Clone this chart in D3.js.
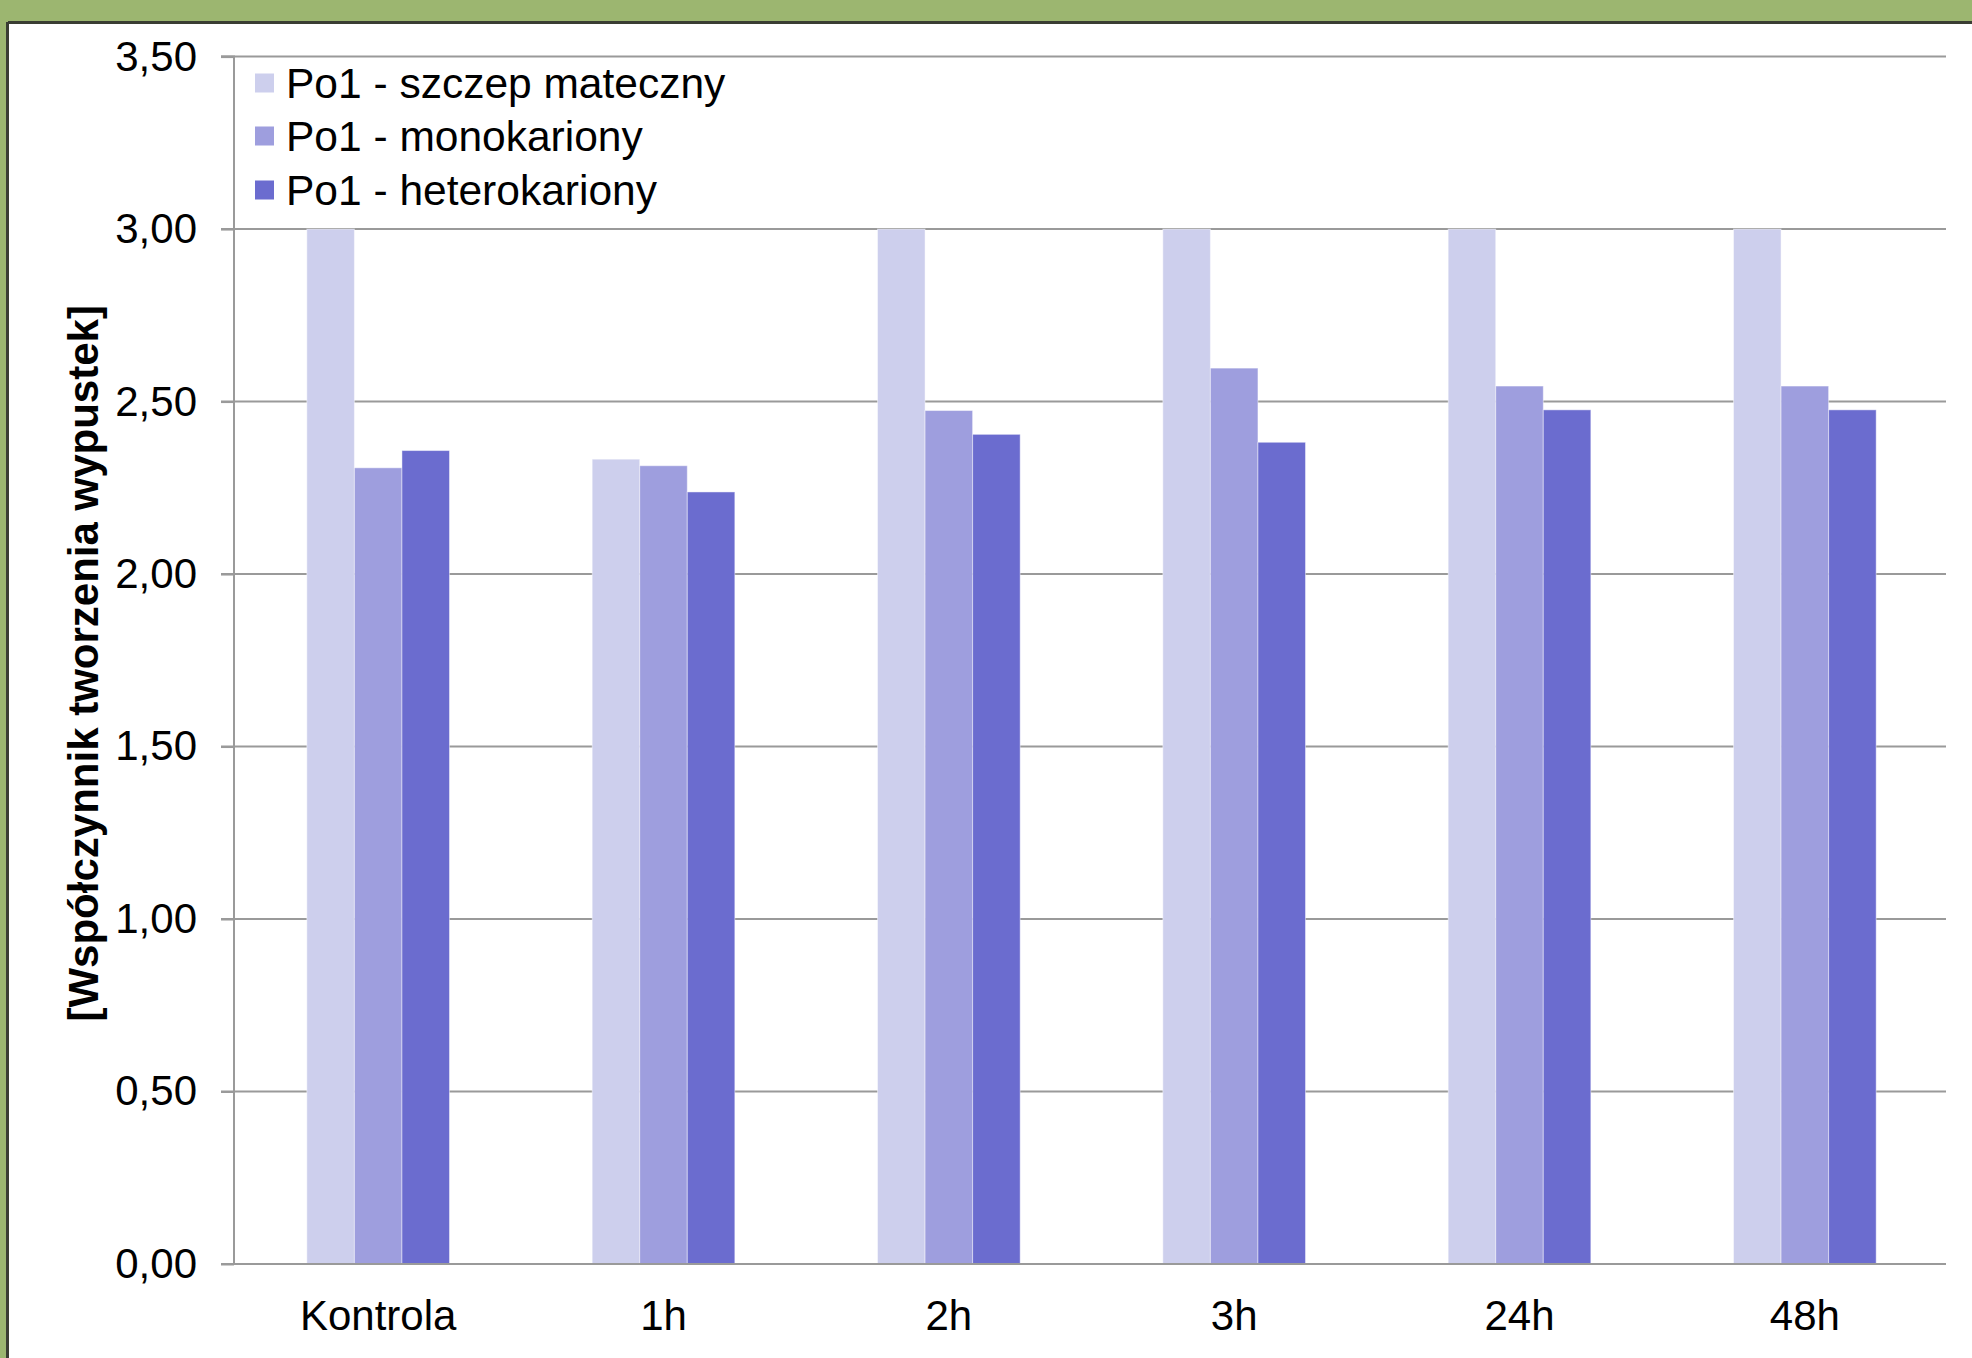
<!DOCTYPE html>
<html>
<head>
<meta charset="utf-8">
<script src="https://cdn.jsdelivr.net/npm/d3@7"></script>
<style>
  html, body { margin: 0; padding: 0; background: #9cb670; }
  svg { display: block; }
  text { font-family: "Liberation Sans", Arial, sans-serif; }
</style>
</head>
<body>
<svg id="chart" width="1972" height="1358"></svg>
<script>
const categories = ["Kontrola", "1h", "2h", "3h", "24h", "48h"];
const seriesNames = ["Po1 - szczep mateczny", "Po1 - monokariony", "Po1 - heterokariony"];
const seriesMateczny = [3.00, 2.333, 3.00, 3.00, 3.00, 3.00];
const seriesMonokariony = [2.308, 2.314, 2.474, 2.597, 2.545, 2.545];
const seriesHeterokariony = [2.358, 2.238, 2.405, 2.382, 2.476, 2.476];
const yTicks = [0, 0.5, 1, 1.5, 2, 2.5, 3, 3.5];
const yTitle = "[Współczynnik tworzenia wypustek]";
const colors = ["#cdcfed", "#9e9ede", "#6b6ccf"];

const seriesValues = [seriesMateczny, seriesMonokariony, seriesHeterokariony];

const svg = d3.select("#chart");
const W = 1972, H = 1358;

svg.append("rect").attr("x", 0).attr("y", 0).attr("width", W).attr("height", H).attr("fill", "#9cb670");
svg.append("rect").attr("x", 8).attr("y", 23).attr("width", W - 8).attr("height", H - 23).attr("fill", "#ffffff");
svg.append("line").attr("x1", 8).attr("x2", W).attr("y1", 22.5).attr("y2", 22.5).attr("stroke", "#3a3d33").attr("stroke-width", 3);
svg.append("line").attr("x1", 7.5).attr("x2", 7.5).attr("y1", 22).attr("y2", H).attr("stroke", "#3a3d33").attr("stroke-width", 3);

const x0 = 234, x1 = 1946, yTop = 56.6, yBot = 1264;

const x = d3.scaleBand().domain(categories).range([x0, x1]).paddingInner(0.5).paddingOuter(0.25);
const xs = d3.scaleBand().domain(d3.range(seriesNames.length)).range([0, x.bandwidth()]).padding(0);
const y = d3.scaleLinear().domain([0, 3.5]).range([yBot, yTop]);

svg.append("g").selectAll("line").data(yTicks.filter(d => d > 0)).join("line")
  .attr("x1", 221).attr("x2", x1)
  .attr("y1", d => y(d)).attr("y2", d => y(d))
  .attr("stroke", "#9a9a9a").attr("stroke-width", 2);

const groups = svg.append("g").selectAll("g").data(categories).join("g")
  .attr("transform", d => `translate(${x(d) + 1.5},0)`);
groups.selectAll("rect").data((c, ci) => seriesValues.map((vals, si) => ({ si, v: vals[ci] }))).join("rect")
  .attr("x", d => xs(d.si))
  .attr("y", d => y(d.v))
  .attr("width", xs.bandwidth())
  .attr("height", d => y(0) - y(d.v))
  .attr("fill", d => colors[d.si])
  .attr("stroke", "#ffffff").attr("stroke-opacity", 0.45).attr("stroke-width", 1);

const yAxis = d3.axisLeft(y).tickValues(yTicks).tickSize(13).tickPadding(24)
  .tickFormat(d => d3.format(".2f")(d).replace(".", ","));
const gy = svg.append("g").attr("transform", `translate(${x0},0)`).call(yAxis);
gy.select(".domain").attr("stroke", "#9a9a9a").attr("stroke-width", 2).attr("d", `M-13,${yTop}H0V${yBot}H-13`);
gy.selectAll(".tick line").attr("stroke", "#9a9a9a").attr("stroke-width", 2);
gy.selectAll(".tick text").attr("font-size", 42).attr("fill", "#000").attr("font-family", "'Liberation Sans', Arial, sans-serif");

const xAxis = d3.axisBottom(x).tickSize(0).tickPadding(36);
const gx = svg.append("g").attr("transform", `translate(1.5,${yBot})`).call(xAxis);
gx.select(".domain").attr("stroke", "#9a9a9a").attr("stroke-width", 2).attr("d", `M${x0 - 1.5},0H${x1 - 1.5}`);
gx.selectAll(".tick text").attr("font-size", 42).attr("fill", "#000").attr("font-family", "'Liberation Sans', Arial, sans-serif");

svg.append("text")
  .attr("transform", `translate(98,${(yTop + yBot) / 2 + 3}) rotate(-90)`)
  .attr("text-anchor", "middle")
  .attr("font-size", 42).attr("font-weight", "bold").attr("fill", "#000")
  .text(yTitle);

const legend = svg.append("g");
const rowY = [83, 136, 190];
seriesNames.forEach((name, i) => {
  legend.append("rect").attr("x", 255).attr("y", rowY[i] - 9.5).attr("width", 19).attr("height", 19).attr("fill", colors[i]);
  legend.append("text").attr("x", 286).attr("y", rowY[i]).attr("dy", "0.35em")
    .attr("font-size", 42.5).attr("fill", "#000").text(name);
});
</script>
</body>
</html>
